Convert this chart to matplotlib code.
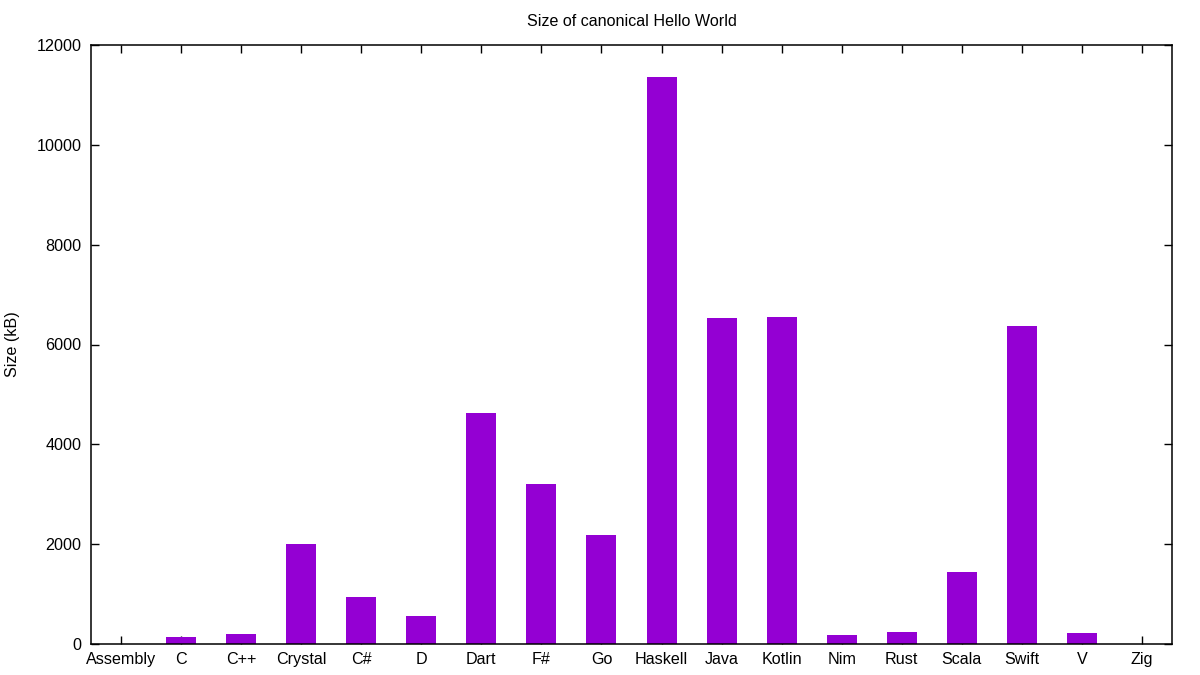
import matplotlib
matplotlib.use("Agg")
import matplotlib.pyplot as plt

plt.rcParams['font.family'] = ['Liberation Sans', 'DejaVu Sans']

languages = ["Assembly", "C", "C++", "Crystal", "C#", "D", "Dart", "F#", "Go",
             "Haskell", "Java", "Kotlin", "Nim", "Rust", "Scala", "Swift", "V", "Zig"]
# hello world binary size in kB
sizes = [5, 140, 200, 2000, 940, 560, 4620, 3200, 2180,
         11360, 6540, 6560, 180, 240, 1440, 6380, 220, 5]

fig = plt.figure(figsize=(12, 6.75), dpi=100)
ax = fig.add_axes([91/1200, 31/675, 1081/1200, 599/675])
ax.set_axisbelow(True)

x = list(range(len(languages)))
ax.bar(x, sizes, width=0.5, color='#9400D3')

ax.set_xlim(-0.5, len(languages) - 0.5)
ax.set_ylim(0, 12000)
ax.set_xticks(x)
ax.set_xticklabels(languages)
ax.set_yticks(range(0, 12001, 2000))

ax.tick_params(direction='in', length=6, width=1, top=True, right=True,
               labelsize=11.6, colors='black')
ax.tick_params(axis='x', pad=6)
ax.tick_params(axis='y', pad=7)
for s in ax.spines.values():
    s.set_linewidth(1.1)

fig.text(13/1200, 0.5 + (344 - 337.5) / 675 * -1, "Size (kB)", rotation=90,
         ha='center', va='center', fontsize=11.6)

fig.text((91 + 1172) / 2 / 1200, 1 - 21/675, "Size of canonical Hello World",
         ha='center', va='center', fontsize=11.6)

fig.savefig("out.png", dpi=100)
